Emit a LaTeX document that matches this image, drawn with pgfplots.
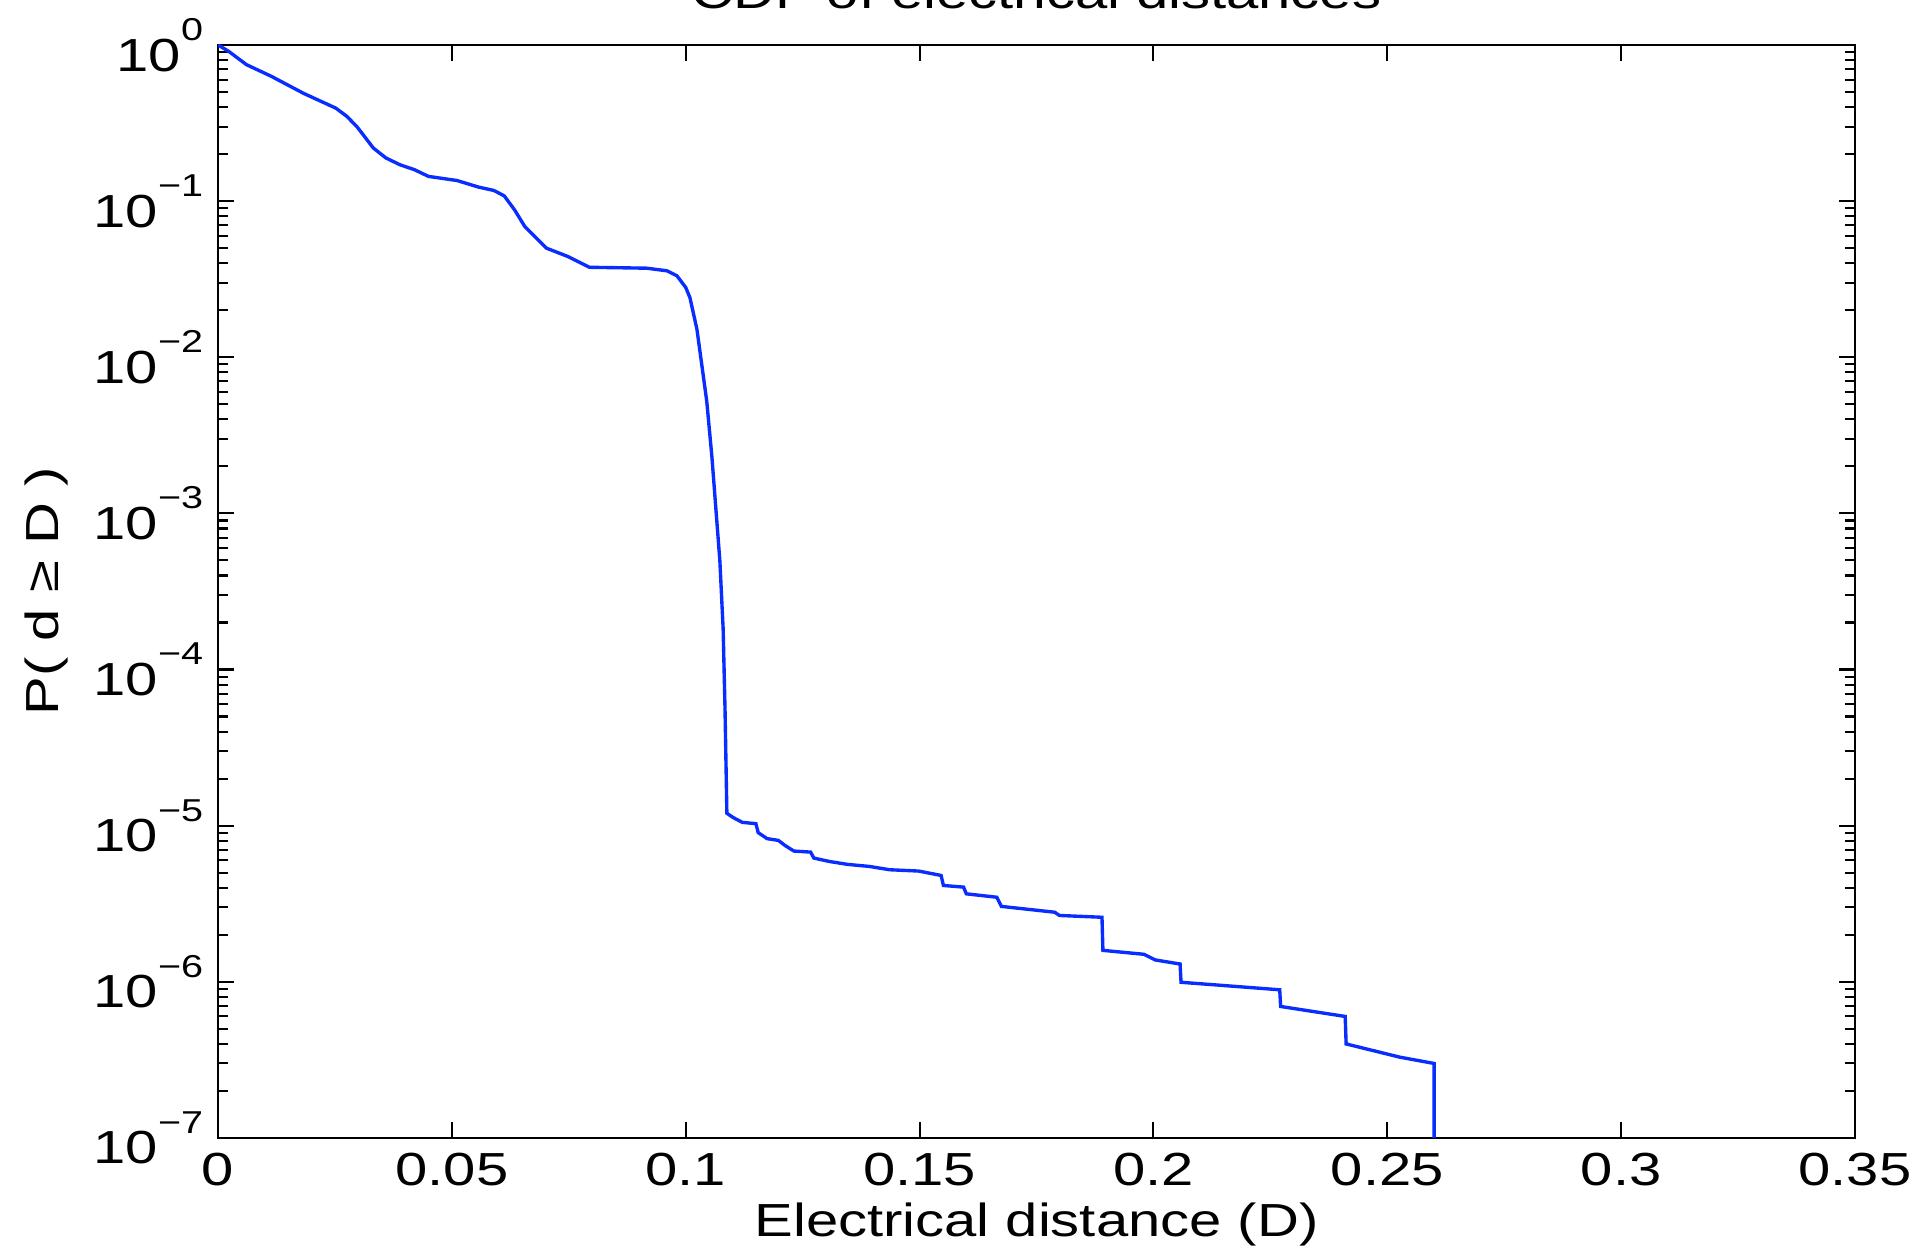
\documentclass[border=0pt]{standalone}
\usepackage{fontspec}
\setmainfont[FakeStretch=1.25]{Liberation Sans}
\usepackage{pgfplots}
\pgfplotsset{compat=1.18}
\definecolor{lineblue}{RGB}{10,45,255}
\newcommand\ex[1]{10\raisebox{0.66em}{\fontsize{7.5}{8}\selectfont#1}}
\begin{document}
\begin{tikzpicture}[font=\fontsize{11}{13}\selectfont]
\begin{axis}[
    scale only axis,
    width=13.642cm, height=9.108cm,
    ymode=log,
    xmin=0, xmax=0.35,
    ymin=1e-7, ymax=1,
    xtick={0,0.05,0.1,0.15,0.2,0.25,0.3,0.35},
    xticklabels={0,0.05,0.1,0.15,0.2,0.25,0.3,0.35},
    ytick={1e-7,1e-6,1e-5,1e-4,1e-3,1e-2,1e-1,1},
    yticklabels={\ex{−7},\ex{−6},\ex{−5},\ex{−4},\ex{−3},\ex{−2},\ex{−1},\ex{0}},
    yminorticks=true,
    tick align=inside,
    major tick length=0.135cm,
    minor tick length=0.083cm,
    axis line style={line width=0.5pt},
    every tick/.style={black, line width=0.5pt},
    every axis title shift=0pt,
    title={CDF of electrical distances},
    title style={at={(axis description cs:0.5,1.0338)}, anchor=base, inner sep=0pt},
    xlabel={Electrical distance (D)},
    xlabel style={at={(axis description cs:0.5,-0.0796)}, anchor=center, inner sep=0pt},
    ylabel={P( d ≥ D )},
    ylabel style={at={(axis description cs:-0.1048,0.5)}, anchor=center, inner sep=0pt},
]
\addplot[lineblue, line width=0.8pt] coordinates {
    (0,1) (0.0023,0.91) (0.0061,0.748) (0.0114,0.63) (0.0183,0.49)
    (0.0252,0.394) (0.0275,0.35) (0.0297,0.30) (0.0332,0.219) (0.0359,0.189)
    (0.0389,0.171) (0.042,0.159) (0.045,0.144) (0.0511,0.1355)
    (0.0557,0.123) (0.0590,0.117) (0.0612,0.108) (0.0634,0.088) (0.0656,0.0687)
    (0.0702,0.050) (0.0748,0.0442) (0.0794,0.0377) (0.0916,0.0372)
    (0.0960,0.0358) (0.0981,0.0333) (0.1000,0.028) (0.1009,0.0241) (0.1024,0.0151)
    (0.1045,0.00522) (0.1056,0.0023) (0.1073,4.97e-4) (0.1080,1.83e-4)
    (0.1084,5.65e-5) (0.1088,1.2e-5)
    (0.1102,1.125e-5) (0.1121,1.05e-5) (0.1150,1.03e-5) (0.1155,9.02e-6)
    (0.1174,8.26e-6) (0.1198,8.05e-6) (0.1212,7.48e-6) (0.1231,6.88e-6)
    (0.1267,6.77e-6) (0.1274,6.2e-6) (0.1307,5.9e-6) (0.1346,5.65e-6)
    (0.1393,5.48e-6) (0.1436,5.22e-6) (0.1498,5.12e-6) (0.1546,4.8e-6)
    (0.1551,4.14e-6) (0.1594,4.04e-6) (0.1600,3.66e-6) (0.1665,3.48e-6)
    (0.1675,3.04e-6) (0.1789,2.79e-6) (0.1799,2.66e-6) (0.1890,2.59e-6)
    (0.1892,1.59e-6) (0.1980,1.50e-6) (0.2004,1.38e-6) (0.2057,1.30e-6)
    (0.2059,9.93e-7) (0.2270,8.89e-7) (0.2272,6.95e-7) (0.2410,6.0e-7)
    (0.2412,4.0e-7) (0.2527,3.29e-7) (0.2600,3.0e-7) (0.2600,1e-8)
};
\end{axis}
\pgfresetboundingbox
\useasboundingbox (-1.8167,-0.9583) rectangle (14.1837,9.483);
\end{tikzpicture}
\end{document}
